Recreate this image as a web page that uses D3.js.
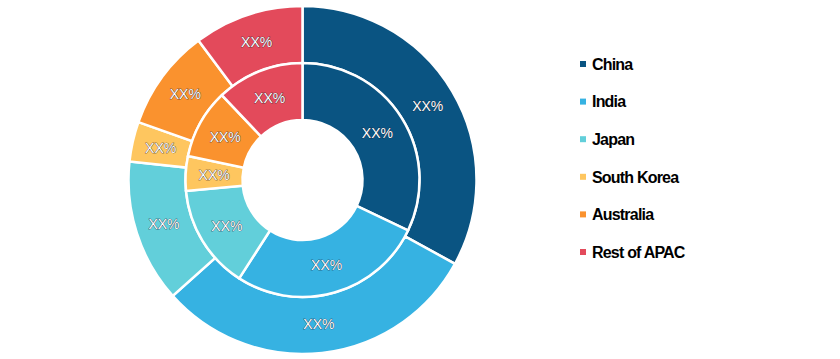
<!DOCTYPE html>
<html>
<head>
<meta charset="utf-8">
<script src="https://cdn.jsdelivr.net/npm/d3@7"></script>
<style>
  html, body { margin: 0; padding: 0; background: #ffffff; }
  svg { display: block; }
</style>
</head>
<body>
<svg id="chart" width="840" height="359"></svg>
<script>
const categories = ["China", "India", "Japan", "South Korea", "Australia", "Rest of APAC"];
const colors = ["#0a5482", "#36b2e2", "#62cfda", "#fec65f", "#fa922e", "#e34a5b"];
const innerValues = [32.1, 27.0, 14.4, 4.8, 9.6, 12.1];
const outerValues = [33.0, 30.4, 13.3, 3.7, 9.4, 10.2];
const sliceLabels = ["XX%", "XX%", "XX%", "XX%", "XX%", "XX%"];

const svg = d3.select("#chart");
const cx = 302.5, cy = 180;
const g = svg.append("g").attr("transform", `translate(${cx},${cy})`);

const pie = d3.pie().sort(null).value(d => d.value);
const color = d3.scaleOrdinal().domain(categories).range(colors);

function ring(values, r0, r1) {
  const data = pie(categories.map((c, i) => ({ cat: c, value: values[i], label: sliceLabels[i] })));
  const arc = d3.arc().innerRadius(r0).outerRadius(r1);
  const grp = g.append("g");
  grp.selectAll("path").data(data).join("path")
    .attr("d", arc)
    .attr("fill", d => color(d.data.cat))
    .attr("stroke", "#ffffff")
    .attr("stroke-width", 2.5)
    .attr("stroke-linejoin", "miter");
  grp.selectAll("text").data(data).join("text")
    .attr("transform", d => `translate(${arc.centroid(d)})`)
    .attr("text-anchor", "middle")
    .attr("dy", "0.35em")
    .attr("font-family", "Liberation Sans, Arial, sans-serif")
    .attr("font-size", 14)
    .attr("fill", "#ffffff")
    .attr("stroke", "#1a1a2e")
    .attr("stroke-width", 0.6)
    .attr("paint-order", "stroke")
    .text(d => d.data.label);
}

ring(outerValues, 117, 174);
ring(innerValues, 60, 117);

// Legend
const legend = svg.append("g").attr("transform", "translate(580,64)");
const y = d3.scalePoint().domain(categories).range([0, 188]);
const items = legend.selectAll("g").data(categories).join("g")
  .attr("transform", d => `translate(0,${y(d)})`);
items.append("rect")
  .attr("x", 0).attr("y", -3).attr("width", 6).attr("height", 6)
  .attr("fill", d => color(d));
items.append("text")
  .attr("x", 12).attr("dy", "0.36em")
  .attr("font-family", "Liberation Sans, Arial, sans-serif")
  .attr("font-size", 16)
  .attr("font-weight", "bold")
  .attr("letter-spacing", -0.8)
  .attr("fill", "#000000")
  .text(d => d);
</script>
</body>
</html>
